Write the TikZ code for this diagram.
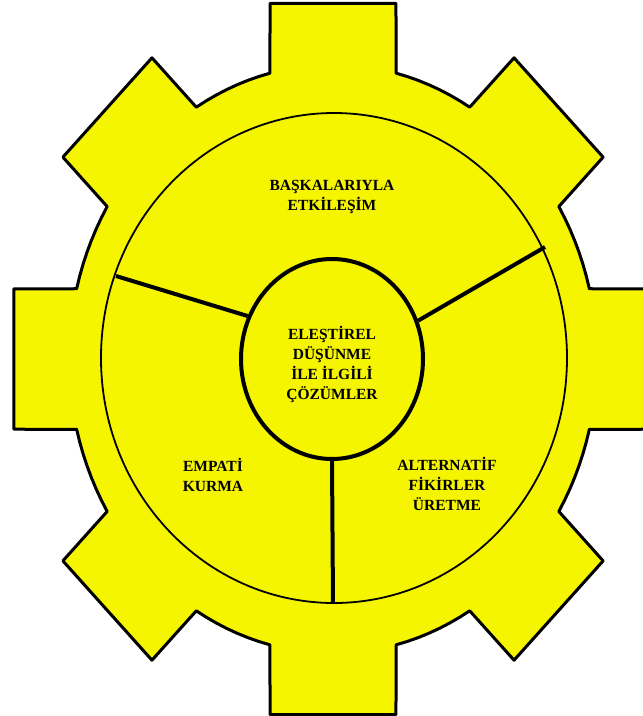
\documentclass[tikz,border=0pt]{standalone}
\usepackage{fontspec}
\setmainfont{Liberation Serif}
\usetikzlibrary{shapes.geometric}
\definecolor{gearyellow}{RGB}{245,245,0}
\begin{document}
\begin{tikzpicture}[x=1pt,y=-1pt,
  gearline/.style={draw=black, line width=3pt, fill=gearyellow, line join=round},
  ringline/.style={draw=black, line width=1.8pt},
  spoke/.style={draw=black, line width=4pt},
  lbl/.style={font=\fontsize{15.5}{20}\selectfont\bfseries, align=center, text=black, inner sep=0pt}
]
\useasboundingbox (0,0) rectangle (643,716);
\clip (0,0) rectangle (643,716);
\fill[white] (0,0) rectangle (643,716);

% gear body
\begin{scope}[shift={(333,359)}, yscale=1.115]
\path[gearline] (-13.81:264)
  \foreach \k in {0,...,7}{
    -- ({\k*45-11.17}:325.2) -- ({\k*45+11.17}:325.2) -- ({\k*45+13.81}:264)
    -- plot[domain={\k*45+13.81}:{\k*45+31.19}, samples=8] (\x:264)
  } -- cycle;
\end{scope}

% inner ring
\node[ellipse, ringline, minimum width=466pt, minimum height=490pt, inner sep=0pt] (ring) at (334,358) {};

% core
\node[ellipse, draw=black, line width=4pt, minimum width=182pt, minimum height=200pt, inner sep=0pt] (core) at (332,359) {};

% spokes
\coordinate (lA) at (116,276);
\coordinate (rA) at (545,247);
\coordinate (bA) at (333,603);
\draw[spoke] (lA) -- (core.153);
\draw[spoke] (rA) -- (core.24);
\draw[spoke] (core.south) -- (bA);

% labels
\node[lbl] (ctext) at (332,364) {ELEŞTİREL\\DÜŞÜNME\\İLE İLGİLİ\\ÇÖZÜMLER};
\node[lbl] (top) at (332,197) {BAŞKALARIYLA\\ETKİLEŞİM};
\node[lbl] (left) at (213,475) {EMPATİ\\KURMA};
\node[lbl] (right) at (447,484) {ALTERNATİF\\FİKİRLER\\ÜRETME};
\end{tikzpicture}
\end{document}
